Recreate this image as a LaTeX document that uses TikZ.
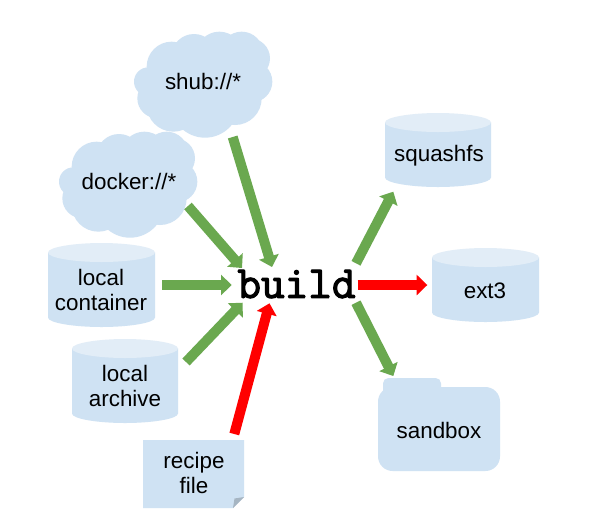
\documentclass[tikz,border=0pt]{standalone}
\usepackage{fontspec}
\setmainfont{Liberation Sans}
\newfontfamily\buildfont[FakeBold=2.6]{Latin Modern Mono}
\usetikzlibrary{arrows.meta}
\definecolor{shapeblue}{HTML}{CFE2F3}
\definecolor{shapetop}{HTML}{E2EDF7}
\definecolor{arrowgreen}{HTML}{6AA84F}
\definecolor{corner}{HTML}{A6B5C2}
\tikzset{
  x=0.75pt,y=-0.75pt,
  lbl/.style={font=\fontsize{16.8pt}{19.2pt}\selectfont,align=center,text=black,inner sep=0pt},
  garrow/.style={draw=arrowgreen,line width=7.5pt,-{Triangle[length=8pt,width=15pt]}},
  rarrow/.style={garrow,draw=red},
}
\newcommand{\cyl}[4]{% left, right, top(y of upper ellipse top), bottom
  \fill[shapeblue] (#1,#3+9.5) -- (#2,#3+9.5) -- (#2,#4-9.5)
    .. controls (#2,#4-4) and ({#1+(#2-#1)*0.75},#4) .. ({(#1+#2)/2},#4)
    .. controls ({#1+(#2-#1)*0.25},#4) and (#1,#4-4) .. (#1,#4-9.5) -- cycle;
  \fill[shapetop] (#1,#3+9.5)
    .. controls (#1,#3+4) and ({#1+(#2-#1)*0.25},#3) .. ({(#1+#2)/2},#3)
    .. controls ({#1+(#2-#1)*0.75},#3) and (#2,#3+4) .. (#2,#3+9.5)
    .. controls (#2,#3+15) and ({#1+(#2-#1)*0.75},#3+19) .. ({(#1+#2)/2},#3+19)
    .. controls ({#1+(#2-#1)*0.25},#3+19) and (#1,#3+15) .. (#1,#3+9.5) -- cycle;
}
\newcommand{\lobe}[3]{\fill[shapeblue] ({40+(#1)/3},{20+(#2)/3}) circle [radius={(#3)*0.25pt}];}
\newcommand{\cloudshape}[2]{%
  \begin{scope}[shift={(#1,#2)}]
  \lobe{325}{185}{43}\lobe{395}{140}{75}\lobe{462}{110}{68}\lobe{538}{105}{70}
  \lobe{605}{100}{65}\lobe{630}{115}{60}\lobe{635}{185}{62}\lobe{585}{235}{80}
  \lobe{495}{250}{103}\lobe{400}{255}{80}\lobe{352}{235}{60}\lobe{490}{180}{110}
  \end{scope}
}
\begin{document}
\begin{tikzpicture}
\useasboundingbox (0,0) rectangle (591,526);
\fill[white] (0,0) rectangle (591,526);
% clouds
\cloudshape{0}{0}
\cloudshape{-75}{100}
% cylinders
\cyl{48}{155}{243}{327}
\cyl{72}{178}{339}{423}
\cyl{385}{491}{113}{187}
\cyl{432}{539}{248}{322}
% folder
\fill[shapeblue,rounded corners=4pt] (383,378) rectangle (441,400);
\fill[shapeblue,rounded corners=11pt] (378,387) rectangle (500,471);
% note
\fill[shapeblue] (143,440) -- (244,440) -- (244,497) -- (233,508) -- (143,508) -- cycle;
\fill[corner] (244,497) -- (233,508) -- (234.5,498.5) -- cycle;
% labels
\node[lbl] (shub) at (203,81) {shub://*};
\node[lbl] (docker) at (129,181) {docker://*};
\node[lbl] (container) at (101,290) {local\\container};
\node[lbl] (archive) at (125,386) {local\\archive};
\node[lbl] (recipe) at (194,473) {recipe\\file};
\node[lbl] (squashfs) at (439,156) {squashfs};
\node[lbl] (ext3) at (485,291) {ext3};
\node[lbl] (sandbox) at (439,430) {sandbox};
\node[inner sep=0pt,font=\buildfont\fontsize{34.4pt}{35pt}\selectfont] (build) at (296.5,284) {build};
% connector ends
\coordinate (a1s) at (232.7,137); \coordinate (a1e) at (272,267);
\coordinate (a2s) at (188,206); \coordinate (a2e) at (242,268);
\coordinate (a3s) at (162,285); \coordinate (a3e) at (231.7,285);
\coordinate (a4s) at (186,362); \coordinate (a4e) at (242.7,302.7);
\coordinate (a5s) at (234.3,434); \coordinate (a5e) at (269.5,303.3);
\coordinate (b1s) at (356,263.3); \coordinate (b1e) at (393.3,191.7);
\coordinate (b2s) at (357.7,285); \coordinate (b2e) at (427.3,285);
\coordinate (b3s) at (356,302.7); \coordinate (b3e) at (393.3,376);
\draw[garrow] (a1s) -- (a1e);
\draw[garrow] (a2s) -- (a2e);
\draw[garrow] (a3s) -- (a3e);
\draw[garrow] (a4s) -- (a4e);
\draw[rarrow] (a5s) -- (a5e);
\draw[garrow] (b1s) -- (b1e);
\draw[rarrow] (b2s) -- (b2e);
\draw[garrow] (b3s) -- (b3e);
\end{tikzpicture}
\end{document}
